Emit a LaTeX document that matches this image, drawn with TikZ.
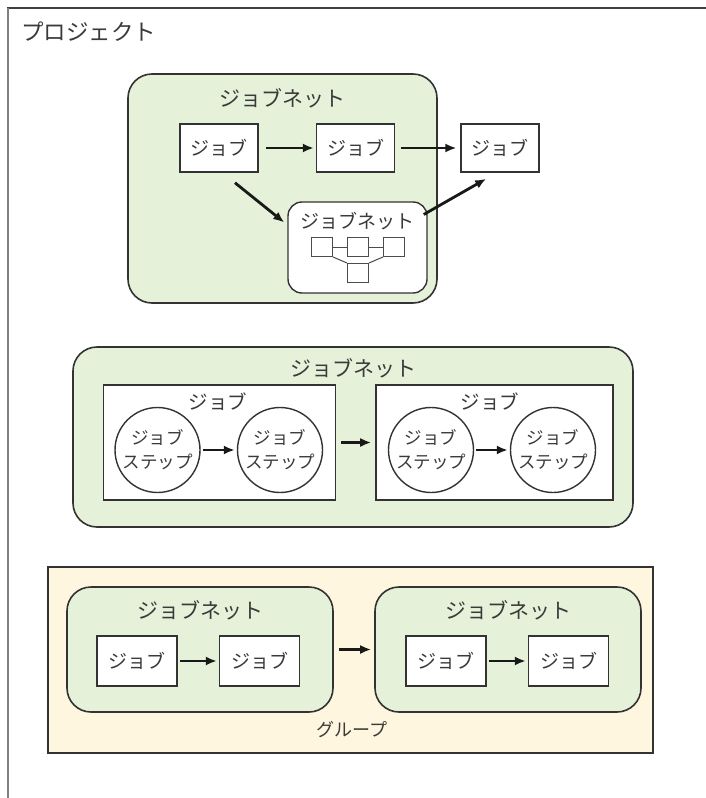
\documentclass[tikz,border=0pt]{standalone}
\usepackage{fontspec}
\setmainfont{Noto Sans CJK JP}
\usetikzlibrary{positioning,shapes.geometric,arrows.meta,calc}
\definecolor{netgreen}{HTML}{E5F1D9}
\definecolor{groupcream}{HTML}{FFF6DF}
\definecolor{inkgray}{HTML}{3A3A3A}

\begin{document}
\begin{tikzpicture}[x=1pt,y=-1pt,
    netnode/.style={rectangle, rounded corners=24pt, draw=black!80, fill=netgreen, line width=1.6pt, inner sep=0pt},
    groupnode/.style={rectangle, draw=black!80, fill=groupcream, line width=1.6pt, inner sep=0pt},
    jobnode/.style={rectangle, draw=black!80, fill=white, line width=1.6pt, minimum width=78pt, minimum height=48pt, inner sep=0pt, font=\fontsize{19}{22}\selectfont, text=inkgray},
    bigjob/.style={rectangle, draw=black!80, fill=white, line width=1.6pt, minimum width=232pt, minimum height=115pt, inner sep=0pt},
    stepnode/.style={circle, draw=black!80, fill=white, line width=1.4pt, minimum size=85pt, inner sep=0pt, align=center, font=\fontsize{17.5}{24}\selectfont, text=inkgray},
    boxlet/.style={rectangle, draw=black!70, fill=white, line width=1pt, minimum width=21pt, minimum height=19pt, inner sep=0pt},
    titlenode/.style={font=\fontsize{21}{24}\selectfont, text=inkgray, inner sep=0pt},
    flow/.style={-{Latex[length=11pt,width=9pt]}, line width=2.8pt, black!90}
   ]
   \useasboundingbox (0,0) rectangle (706,798);
   \draw[black!75, line width=2pt] (7,8) -- (706,8);
   \draw[black!50, line width=1.5pt] (8,8) -- (8,798);
   \node[titlenode, font=\fontsize{22.5}{24}\selectfont, anchor=west] (project) at (21,32) {プロジェクト};

   % top job net
   \node[netnode, minimum width=309pt, minimum height=229pt] (topNet) at (282.5,188.5) {};
   \node[titlenode] (topNetTitle) at (282.5,98) {ジョブネット};
   \node[jobnode] (jobA) at (219,148) {ジョブ};
   \node[jobnode] (jobB) [right=57pt of jobA] {ジョブ};
   \node[jobnode] (jobC) [right=65pt of jobB] {ジョブ};
   \node[netnode, rounded corners=14pt, fill=white, line width=1.4pt, minimum width=139pt, minimum height=91pt] (subNet) at (357.5,247.5) {};
   \node[titlenode, font=\fontsize{19}{20}\selectfont] (subNetTitle) at (357.5,221) {ジョブネット};
   \node[boxlet] (miniA) at (322,247) {};
   \node[boxlet] (miniB) [right=14pt of miniA] {};
   \node[boxlet] (miniC) [right=14pt of miniB] {};
   \node[boxlet] (miniD) [below=6pt of miniB] {};
   \draw[black!70, line width=1pt] (miniA.east) -- (miniB.west) (miniB.east) -- (miniC.west);
   \draw[black!70, line width=1pt] (miniA.south east) -- (miniD.north west) (miniC.south west) -- (miniD.north east);

   \draw[flow, shorten <=7pt, shorten >=2pt] (jobA) -- (jobB);
   \draw[flow, shorten <=6pt, shorten >=4pt] (jobB) -- (jobC);
   \draw[flow] ($(jobA.south)+(16,10)$) -- ($(subNet.west)+(-3,-25)$);
   \draw[flow] ($(subNet.east)+(-4,-33)$) -- ($(jobC.south)+(-14,6)$);

   % middle job net
   \node[netnode, minimum width=560pt, minimum height=180pt] (midNet) at (353,437) {};
   \node[titlenode] (midNetTitle) at (353,368) {ジョブネット};
   \node[bigjob] (bigJobA) at (219.5,442.5) {};
   \node[titlenode, font=\fontsize{19.5}{20}\selectfont] (bigJobATitle) at (218,402) {ジョブ};
   \node[stepnode] (stepA) at (157.5,450) {ジョブ\\ステップ};
   \node[stepnode] (stepB) at (280,450) {ジョブ\\ステップ};
   \node[bigjob, minimum width=237pt] (bigJobB) at (494.5,442.5) {};
   \node[titlenode, font=\fontsize{19.5}{20}\selectfont] (bigJobBTitle) at (490,402) {ジョブ};
   \node[stepnode] (stepC) at (431,450) {ジョブ\\ステップ};
   \node[stepnode] (stepD) at (553,450) {ジョブ\\ステップ};

   \draw[flow, line width=2.2pt, shorten <=2pt, shorten >=2pt] (stepA) -- (stepB);
   \draw[flow, line width=2.2pt, shorten <=2pt, shorten >=2pt] (stepC) -- (stepD);
   \draw[flow, shorten <=5pt, shorten >=4pt] (bigJobA) -- (bigJobB);

   % group
   \node[groupnode, minimum width=605pt, minimum height=186pt] (group) at (350.5,660) {};
   \node[titlenode, font=\fontsize{18}{20}\selectfont] (groupTitle) at (352,730) {グループ};
   \node[netnode, minimum width=266pt, minimum height=125pt] (leftNet) at (200,649.5) {};
   \node[titlenode] (leftNetTitle) at (200,610) {ジョブネット};
   \node[jobnode, minimum width=80pt, minimum height=50pt] (jobL1) at (137,661) {ジョブ};
   \node[jobnode, minimum width=80pt, minimum height=50pt] (jobL2) [right=41pt of jobL1] {ジョブ};
   \node[netnode, minimum width=266pt, minimum height=125pt] (rightNet) at (508,649.5) {};
   \node[titlenode] (rightNetTitle) at (508,610) {ジョブネット};
   \node[jobnode, minimum width=80pt, minimum height=50pt] (jobR1) at (446,661) {ジョブ};
   \node[jobnode, minimum width=80pt, minimum height=50pt] (jobR2) [right=41pt of jobR1] {ジョブ};

   \draw[flow, shorten <=2pt, shorten >=2pt] (jobL1) -- (jobL2);
   \draw[flow, shorten <=5pt, shorten >=3pt] (leftNet) -- (rightNet);
   \draw[flow, shorten <=2pt, shorten >=2pt] (jobR1) -- (jobR2);
\end{tikzpicture}
\end{document}
